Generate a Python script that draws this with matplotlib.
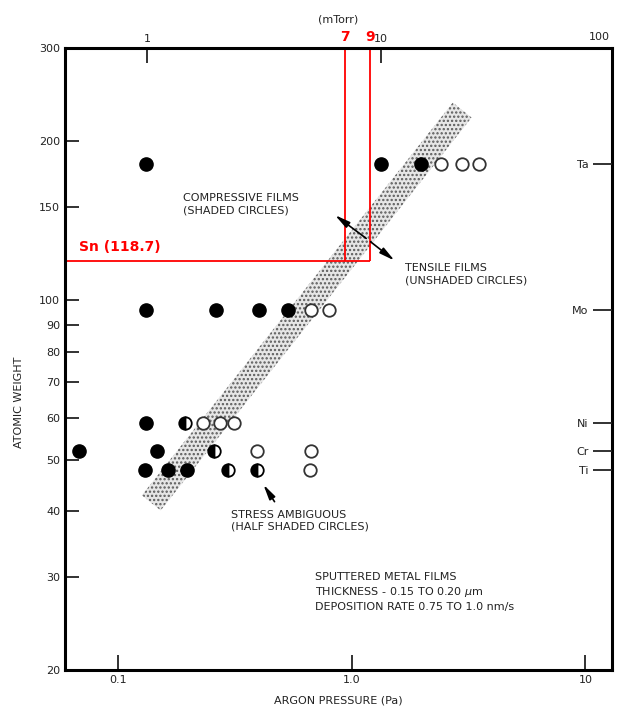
import matplotlib.pyplot as plt
from matplotlib.patches import Polygon

plt.rcParams['font.family'] = ['DejaVu Sans']
plt.rcParams['hatch.linewidth'] = 1.1

PA_PER_MTORR = 0.133322

# atomic weights of the metals
metales = ['Ta', 'Mo', 'Ni', 'Cr', 'Ti']
pesos = [180.95, 95.95, 58.69, 52.00, 47.87]

# argon pressure (Pa) for each film, by stress type
llenos = {
    'Ta': [0.132, 1.34, 1.99],
    'Mo': [0.132, 0.263, 0.401, 0.533],
    'Ni': [0.132],
    'Cr': [0.0685, 0.147],
    'Ti': [0.130, 0.164, 0.198],
}
medios = {
    'Ta': [],
    'Mo': [],
    'Ni': [0.194],
    'Cr': [0.258],
    'Ti': [0.296, 0.394],
}
vacios = {
    'Ta': [2.42, 2.97, 3.51],
    'Mo': [0.669, 0.798],
    'Ni': [0.232, 0.274, 0.314],
    'Cr': [0.394, 0.669],
    'Ti': [0.662],
}

# transition band corners (Pa, atomic weight)
banda_x = [0.1267, 0.1524, 3.26, 2.71]
banda_y = [42.8, 40.05, 221.6, 236.6]

sn_peso = 118.7
p7 = 7 * PA_PER_MTORR
p9 = 9 * PA_PER_MTORR

gris = '#222222'

fig = plt.figure(figsize=(6.23, 7.15), dpi=100)
ax = fig.add_axes([65/623, 45/715, 547/623, 622/715])
ax.set_xscale('log')
ax.set_yscale('log')
ax.set_xlim(0.0594, 13.0)
ax.set_ylim(20, 300)

banda = Polygon(list(zip(banda_x, banda_y)), closed=True, facecolor='#e6e6e6',
                edgecolor='#5a5a5a', hatch='....', linewidth=0, zorder=1)
ax.add_patch(banda)

for m, w in zip(metales, pesos):
    xs = llenos[m]
    ax.plot(xs, [w]*len(xs), 'o', color='black', markersize=9.5, zorder=3)
    xs = medios[m]
    ax.plot(xs, [w]*len(xs), 'o', color='black', markersize=9, fillstyle='left',
            markerfacecoloralt='white', markeredgewidth=1.3, zorder=3)
    xs = vacios[m]
    ax.plot(xs, [w]*len(xs), 'o', markerfacecolor='white', markeredgecolor='#333333',
            markersize=9, markeredgewidth=1.3, zorder=3)

# red guide lines for Sn
ax.hlines(sn_peso, 0.0594, p9, color='red', linewidth=1.3, zorder=2)
ax.vlines([p7, p9], sn_peso, 300, color='red', linewidth=1.3, zorder=2)
ax.text(0.068, 124, 'Sn (118.7)', color='red', fontsize=10, fontweight='bold')
ax.annotate('7', (p7, 300), xytext=(0, 3), textcoords='offset points',
            ha='center', va='bottom', color='red', fontsize=10, fontweight='bold')
ax.annotate('9', (p9, 300), xytext=(0, 3), textcoords='offset points',
            ha='center', va='bottom', color='red', fontsize=10, fontweight='bold')

# text and arrows
ax.text(0.190, 152, 'COMPRESSIVE FILMS\n(SHADED CIRCLES)', fontsize=8,
        color=gris, linespacing=1.3, va='center')
ax.text(1.70, 112, 'TENSILE FILMS\n(UNSHADED CIRCLES)', fontsize=8,
        color=gris, linespacing=1.3, va='center')
ax.text(0.305, 38.3, 'STRESS AMBIGUOUS\n(HALF SHADED CIRCLES)', fontsize=8,
        color=gris, linespacing=1.3, va='center')
ax.text(0.695, 28.1, 'SPUTTERED METAL FILMS\nTHICKNESS - 0.15 TO 0.20 $\\mu$m\n'
        'DEPOSITION RATE 0.75 TO 1.0 nm/s', fontsize=8, color=gris,
        linespacing=1.35, va='center')

flecha = dict(arrowstyle='-|>,head_length=0.9,head_width=0.2', color='black', lw=1.2)
ax.annotate('', xy=(0.83, 146), xytext=(1.18, 130), arrowprops=flecha)
ax.annotate('', xy=(1.56, 118), xytext=(1.18, 130), arrowprops=flecha)
ax.annotate('', xy=(0.413, 45.3), xytext=(0.475, 41.2), arrowprops=flecha)

# axes styling
for s in ax.spines.values():
    s.set_linewidth(2.2)
ax.minorticks_off()
ax.set_xticks([0.1, 1.0, 10])
ax.set_xticklabels(['0.1', '1.0', '10'])
ytk = [20, 30, 40, 50, 60, 70, 80, 90, 100, 150, 200, 300]
ax.set_yticks(ytk)
ax.set_yticklabels([str(v) for v in ytk])
ax.tick_params(direction='in', length=11, width=1.3, labelsize=8, colors=gris)
ax.tick_params(axis='y', length=10)
ax.set_xlabel('ARGON PRESSURE (Pa)', fontsize=8, color=gris, labelpad=8)
ax.set_ylabel('ATOMIC WEIGHT', fontsize=8, color=gris)
ax.yaxis.set_label_coords(-0.075, 0.43)

arriba = ax.secondary_xaxis('top', functions=(lambda p: p / PA_PER_MTORR,
                                              lambda t: t * PA_PER_MTORR))
arriba.set_xticks([1, 10])
arriba.set_xticklabels(['1', '10'])
arriba.minorticks_off()
arriba.tick_params(direction='in', length=11, width=1.3, labelsize=8, colors=gris, pad=3)
arriba.set_xlabel('(mTorr)', fontsize=8, color=gris, labelpad=8)
# 100 mTorr sits right on the right spine
ax.annotate('100', (1.0, 1.0), xycoords='axes fraction', xytext=(-9, 4.5),
            textcoords='offset points', ha='center', va='bottom',
            fontsize=8, color=gris)

derecha = ax.twinx()
derecha.set_yscale('log')
derecha.set_ylim(20, 300)
derecha.minorticks_off()
derecha.set_yticks(pesos)
derecha.set_yticklabels(metales)
derecha.tick_params(direction='in', length=14, width=1.3, labelsize=8,
                    colors=gris, pad=-17)
for lb in derecha.get_yticklabels():
    lb.set_horizontalalignment('right')
for s in derecha.spines.values():
    s.set_visible(False)

fig.savefig('out.png', dpi=100)
